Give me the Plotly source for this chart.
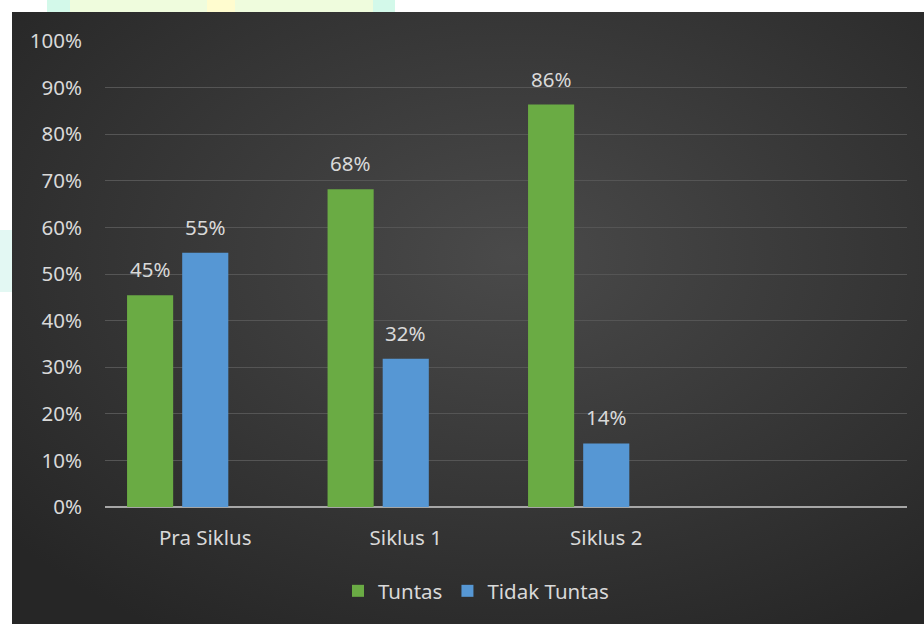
import base64
import plotly.graph_objects as go

categories = ["Pra Siklus", "Siklus 1", "Siklus 2"]
tuntas = [45.45, 68.18, 86.36]
tidak_tuntas = [54.55, 31.82, 13.64]
tuntas_labels = ["45%", "68%", "86%"]
tidak_labels = ["55%", "32%", "14%"]
y_ticks = list(range(0, 101, 10))
y_tick_labels = [f"{v}%" for v in y_ticks]

W, H = 924, 624
L, R, T, B = 105, 17, 41, 117
pw, ph = W - L - R, H - T - B

def px(x):
    return (x - L) / pw

def py(y):
    return (H - B - y) / ph

FONT = "Noto Sans"
FS = 20.5
TXT = "#d9d9d9"

svg = f'''<svg xmlns="http://www.w3.org/2000/svg" width="912" height="612" viewBox="0 0 912 612">
<defs><radialGradient id="g" cx="55%" cy="40%" r="72%">
<stop offset="0" stop-color="#4a4a4a"/><stop offset="1" stop-color="#262626"/></radialGradient></defs>
<rect width="912" height="612" fill="url(#g)"/></svg>'''
src = "data:image/svg+xml;base64," + base64.b64encode(svg.encode()).decode()

fig = go.Figure()
bw = 0.23
fig.add_trace(go.Bar(x=categories, y=tuntas, name="Tuntas", width=bw, offset=-0.39,
                     marker=dict(color="#6aab44", line=dict(width=0))))
fig.add_trace(go.Bar(x=categories, y=tidak_tuntas, name="Tidak Tuntas", width=bw, offset=-0.115,
                     marker=dict(color="#5697d4", line=dict(width=0))))

annotations = []
for i, (v, t) in enumerate(zip(tuntas, tuntas_labels)):
    annotations.append(dict(x=i - 0.275, y=v, text=t, showarrow=False, yanchor="bottom",
                            yshift=10, font=dict(family=FONT, size=FS, color=TXT)))
for i, (v, t) in enumerate(zip(tidak_tuntas, tidak_labels)):
    annotations.append(dict(x=i, y=v, text=t, showarrow=False, yanchor="bottom",
                            yshift=10, font=dict(family=FONT, size=FS, color=TXT)))

shapes = []
# pastel watermark patches in the white border
for x0, x1, c in [(47, 70, "#d3f9ea"), (70, 207, "#effcdd"), (207, 235, "#fffccf"),
                  (235, 373, "#effcdd"), (373, 395, "#d3f9ea")]:
    shapes.append(dict(type="rect", xref="paper", yref="paper", x0=px(x0), x1=px(x1),
                       y0=py(12), y1=py(0), fillcolor=c, line=dict(width=0), layer="below"))
shapes.append(dict(type="rect", xref="paper", yref="paper", x0=px(0), x1=px(12),
                   y0=py(292), y1=py(230), fillcolor="#e3f8f3", line=dict(width=0), layer="below"))

fig.update_layout(
    width=W, height=H,
    margin=dict(l=L, r=R, t=T, b=B),
    paper_bgcolor="white",
    plot_bgcolor="rgba(0,0,0,0)",
    barmode="group",
    showlegend=True,
    legend=dict(orientation="h", x=px(476), xanchor="center", y=py(591), yanchor="middle",
                font=dict(family=FONT, size=FS, color=TXT), bgcolor="rgba(0,0,0,0)",
                itemwidth=30, tracegroupgap=0),
    images=[dict(source=src, xref="paper", yref="paper", x=px(12), y=py(12),
                 sizex=912 / pw, sizey=612 / ph, sizing="stretch", layer="below",
                 xanchor="left", yanchor="top")],
    shapes=shapes,
    annotations=annotations,
    xaxis=dict(type="category", categoryorder="array", categoryarray=categories,
               range=[-0.5, 3.5], showgrid=False, showline=False, zeroline=False,
               ticks="", ticklabelstandoff=16,
               tickfont=dict(family=FONT, size=FS, color=TXT)),
    yaxis=dict(range=[0, 100], tickvals=y_ticks, ticktext=y_tick_labels,
               showgrid=True, gridcolor="#555555", gridwidth=1,
               zeroline=True, zerolinecolor="#a6a6a6", zerolinewidth=2,
               showline=False, ticks="", ticklabelstandoff=22,
               tickfont=dict(family=FONT, size=FS, color=TXT)),
    font=dict(family=FONT),
)

fig.write_html("out.html")
